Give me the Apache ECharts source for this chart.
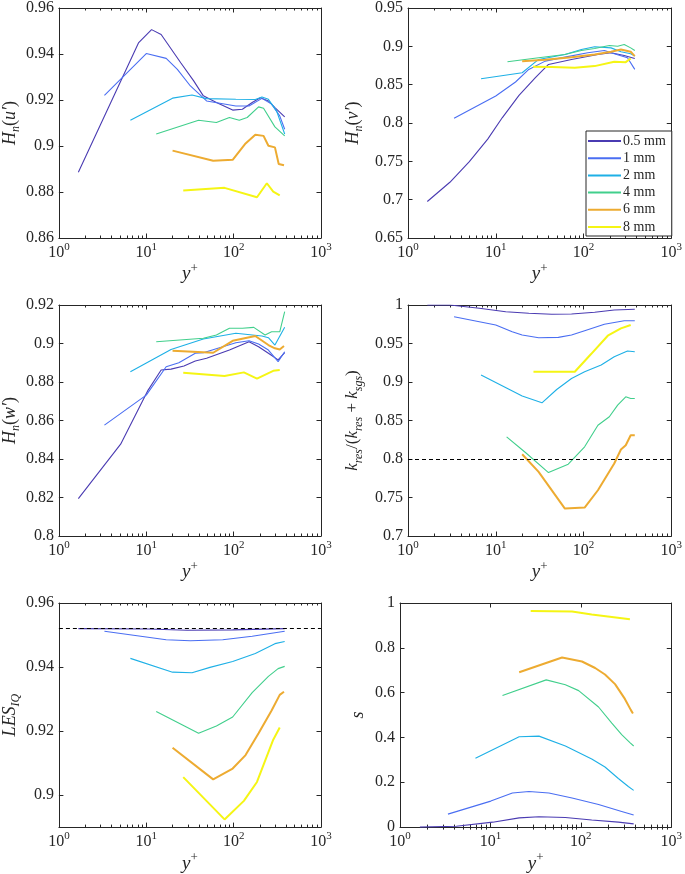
<!DOCTYPE html>
<html><head><meta charset="utf-8">
<script src="https://cdn.jsdelivr.net/npm/echarts@6/dist/echarts.min.js"></script>
<style>html,body{margin:0;padding:0;background:#fff}#c{width:685px;height:874px}</style>
</head><body><div id="c"></div><script>
// ---------- data ----------
const seriesNames = ['0.5 mm','1 mm','2 mm','4 mm','6 mm','8 mm'];
const xTickValues = [1, 10, 100, 1000];
const xMinorTicks = [2,3,4,5,6,7,8,9,20,30,40,50,60,70,80,90,200,300,400,500,600,700,800,900];

// Panel 1: Hn(u')
const hu05 = [[1.67,0.8886],[8.14,0.9448],[11.5,0.9506],[14.8,0.9485],[24.8,0.9362],[34.9,0.9283],[45,0.9218],[63.5,0.9189],[97.5,0.9156],[126,0.916],[163,0.9189],[202,0.921],[250,0.9196],[297,0.9167],[384,0.9127]];
const hu1  = [[3.32,0.922],[10,0.9402],[16.9,0.9381],[22.7,0.9333],[32,0.9261],[49,0.9196],[75,0.9184],[106,0.9174],[150,0.9174],[211,0.9207],[272,0.9182],[337,0.9131],[384,0.9073]];
const hu2  = [[6.58,0.9112],[20,0.9208],[33.4,0.9222],[49,0.9206],[106,0.9203],[177,0.9202],[211,0.9213],[250,0.9203],[310,0.9153],[384,0.9052]];
const hu4  = [[13,0.9052],[39.7,0.9112],[63.5,0.9102],[89.5,0.9124],[116,0.9112],[143,0.9124],[193,0.917],[220,0.9164],[297,0.9083],[384,0.9044]];
const hu6  = [[20,0.898],[58.3,0.8936],[97.5,0.894],[137,0.9011],[177,0.9049],[220,0.9044],[250,0.9001],[297,0.8994],[328,0.8922],[377,0.8916]];
const hu8  = [[26.5,0.8806],[78.7,0.8818],[185,0.8777],[240,0.8838],[284,0.8802],[337,0.8785]];

// Panel 2: Hn(v')
const hv05 = [[1.66,0.6976],[3.0,0.7227],[5.0,0.7496],[8.1,0.779],[11.9,0.8071],[18.4,0.8361],[28.3,0.8591],[39.9,0.8764],[73,0.8829],[146,0.8894],[206,0.8916],[291,0.8881],[384,0.8842]];
const hv1  = [[3.35,0.8063],[10,0.8353],[16.8,0.8535],[23.8,0.8699],[36.6,0.8807],[61.4,0.8859],[112,0.8916],[173,0.8946],[224,0.8903],[317,0.8851],[384,0.8699]];
const hv2  = [[6.8,0.8578],[20,0.8656],[30.8,0.8829],[61.4,0.8894],[94.6,0.8959],[134,0.8994],[206,0.898],[267,0.8929],[345,0.8903],[384,0.8872]];
const hv4  = [[13.6,0.8799],[30.8,0.8851],[61.4,0.8894],[94.6,0.8946],[134,0.8972],[197,0.9011],[245,0.9002],[291,0.9024],[345,0.898],[384,0.8946]];
const hv6  = [[20,0.8807],[36.6,0.8825],[73,0.8859],[134,0.8894],[206,0.8929],[267,0.8959],[345,0.8929],[384,0.8872]];
const hv8  = [[26.6,0.8734],[43.5,0.873],[79.6,0.8721],[134,0.8742],[224,0.8799],[303,0.8794],[345,0.8842]];

// Panel 3: Hn(w')
const hw05 = [[1.67,0.8194],[5.09,0.8477],[10.5,0.8758],[14.8,0.8862],[19.2,0.8867],[27,0.8883],[36.4,0.8909],[49,0.8923],[89.5,0.8966],[150,0.9009],[193,0.8983],[250,0.8949],[323,0.8915],[384,0.8952]];
const hw1  = [[3.32,0.8576],[10,0.8732],[16.9,0.8879],[23.6,0.89],[36.4,0.8949],[45,0.8952],[75,0.8983],[106,0.9004],[150,0.9014],[193,0.8997],[250,0.8966],[323,0.8906],[384,0.8957]];
const hw2  = [[6.58,0.8853],[19.2,0.8969],[45,0.9023],[106,0.9053],[211,0.9039],[250,0.903],[297,0.8992],[384,0.9084]];
const hw4  = [[13,0.9009],[45,0.9027],[63.5,0.9044],[89.5,0.9079],[126,0.9079],[170,0.9084],[229,0.9044],[272,0.9061],[337,0.9061],[384,0.9165]];
const hw6  = [[20,0.8962],[58.3,0.8952],[97.5,0.9014],[177,0.9039],[250,0.8992],[297,0.8975],[337,0.8969],[377,0.8987]];
const hw8  = [[26.5,0.8848],[78.7,0.8831],[131,0.885],[185,0.8818],[284,0.8858],[337,0.8862]];

// Panel 4: k_res/(k_res+k_sgs)
const kr05 = [[1.66,1.0],[3,1.0],[6.5,0.9957],[13,0.9913],[23.8,0.9892],[43.5,0.9879],[73,0.9883],[134,0.9905],[224,0.9935],[384,0.9944]];
const kr1  = [[3.35,0.9848],[10,0.974],[15.4,0.9653],[20,0.961],[30.8,0.9575],[51.7,0.958],[73,0.961],[103,0.9666],[173,0.9749],[291,0.9796],[384,0.9796]];
const kr2  = [[6.8,0.909],[20,0.8817],[33.6,0.873],[49.5,0.8903],[73,0.9046],[103,0.9133],[159,0.922],[224,0.9328],[317,0.9402],[384,0.9393]];
const kr4  = [[13.3,0.8288],[21.8,0.8084],[39.9,0.7824],[67,0.7932],[103,0.8158],[146,0.8439],[197,0.8548],[245,0.87],[303,0.8808],[345,0.8786],[384,0.8786]];
const kr6  = [[20,0.8062],[30.8,0.7832],[61.4,0.7356],[103,0.7369],[146,0.7594],[224,0.7941],[267,0.8123],[303,0.8179],[345,0.8309],[384,0.8309]];
const kr8  = [[26.9,0.9133],[79.6,0.9133],[122,0.9363],[189,0.9601],[267,0.9697],[345,0.974]];
const kRef = 0.8;

// Panel 5: LES_IQ
const les05 = [[1.67,0.952],[10.5,0.9519],[29.4,0.9515],[97.5,0.9516],[384,0.952]];
const les1  = [[3.32,0.9512],[16.9,0.9485],[32,0.9482],[75,0.9485],[163,0.9496],[384,0.9512]];
const les2  = [[6.58,0.9427],[20,0.9384],[33.4,0.9382],[53.6,0.9399],[97.5,0.9417],[177,0.9442],[297,0.9473],[384,0.948]];
const les4  = [[13,0.9261],[39.7,0.9193],[63.5,0.9216],[97.5,0.9244],[163,0.932],[250,0.9371],[323,0.9395],[384,0.9402]];
const les6  = [[20,0.9148],[58.3,0.9049],[97.5,0.9083],[137,0.9125],[193,0.9193],[272,0.9264],[337,0.9313],[377,0.9323]];
const les8  = [[26.5,0.9056],[78.7,0.8924],[131,0.8982],[185,0.9041],[284,0.9173],[337,0.9211]];
const lesRef = 0.952;
const lesTicks = [0.9, 0.92, 0.94, 0.96];

// Panel 6: s
const s05 = [[1.66,0.0],[4.19,0.004],[10.6,0.022],[20.8,0.041],[34.4,0.046],[67.5,0.043],[132,0.032],[260,0.022],[384,0.0145]];
const s1  = [[3.39,0.058],[10.1,0.116],[17.5,0.152],[26.7,0.159],[44.3,0.152],[80,0.13],[157,0.101],[283,0.07],[384,0.054]];
const s2  = [[6.83,0.307],[20.8,0.403],[34.4,0.406],[67.5,0.362],[132,0.304],[185,0.268],[260,0.217],[335,0.181],[384,0.164]];
const s4  = [[13.6,0.587],[41.4,0.657],[67.5,0.635],[94.6,0.609],[157,0.536],[220,0.464],[283,0.413],[349,0.377],[384,0.362]];
const s6  = [[20.8,0.691],[62,0.757],[103,0.739],[144,0.71],[185,0.681],[239,0.638],[307,0.572],[358,0.522],[377,0.507]];
const s8  = [[27.9,0.964],[80,0.962],[132,0.949],[349,0.928]];

// ---------- layout / style ----------
const F = '"Liberation Serif","DejaVu Serif",serif';
const AX = '#262626';
const colors = ['#4a3bb2','#4a6ef2','#1eb0e6','#41cf8c','#edab31','#f5f514'];
const widths = [1.1,1.1,1.1,1.1,2,2];

const rich = {
  b:  {fontFamily:F, fontSize:16, color:AX, verticalAlign:'bottom'},
  s:  {fontFamily:F, fontSize:11, color:AX, verticalAlign:'top', padding:[0,0,8,0]},
  i:  {fontFamily:F, fontSize:18, fontStyle:'italic', color:AX, verticalAlign:'top'},
  n:  {fontFamily:F, fontSize:18, color:AX, verticalAlign:'top'},
  sub:{fontFamily:F, fontSize:12, fontStyle:'italic', color:AX, verticalAlign:'bottom', padding:[9,0,0,0]},
  ip: {fontFamily:F, fontSize:19, fontStyle:'italic', color:AX, verticalAlign:'bottom'},
  sp: {fontFamily:F, fontSize:13, color:AX, verticalAlign:'top', padding:[0,0,9,0]},
  ki: {fontFamily:F, fontSize:17, fontStyle:'italic', color:AX, verticalAlign:'top'},
  kn: {fontFamily:F, fontSize:17, color:AX, verticalAlign:'top'},
  ks: {fontFamily:F, fontSize:12, fontStyle:'italic', color:AX, verticalAlign:'bottom', padding:[9,0,0,0]}
};

const panels = [
  {rect:{left:52, top:7,   width:269, height:231}, data:[hu05,hu1,hu2,hu4,hu6,hu8], min:0.86, max:0.96, interval:0.02, name:'{i|H}{sub|n}{n|(}{i|u′}{n|)}', gap:32},
  {rect:{left:408,top:7,   width:266, height:231}, data:[hv05,hv1,hv2,hv4,hv6,hv8], min:0.65, max:0.95, interval:0.05, name:'{i|H}{sub|n}{n|(}{i|v′}{n|)}', gap:43},
  {rect:{left:52, top:305, width:269, height:231}, data:[hw05,hw1,hw2,hw4,hw6,hw8], min:0.8,  max:0.92, interval:0.02, name:'{i|H}{sub|n}{n|(}{i|w′}{n|)}', gap:32},
  {rect:{left:408,top:305, width:266, height:231}, data:[kr05,kr1,kr2,kr4,kr6,kr8], min:0.7,  max:1.0,  interval:0.05, name:'{ki|k}{ks|res}{kn|/(}{ki|k}{ks|res}{kn| + }{ki|k}{ks|sgs}{kn|)}', gap:43, ref:kRef},
  {rect:{left:52, top:603, width:269, height:230}, data:[les05,les1,les2,les4,les6,les8], min:0.89, max:0.96, custom:lesTicks, name:'{i|LES}{sub|IQ}', gap:32, ref:lesRef},
  {rect:{left:400,top:603, width:273, height:230}, data:[s05,s1,s2,s4,s6,s8], min:0, max:1, interval:0.2, name:'{i|s}', gap:33}
];

const minorPos = xMinorTicks.map(v => Math.log10(v)); // tick positions in decades

const grid = [], xAxis = [], yAxis = [], series = [];
panels.forEach((p, g) => {
  grid.push(Object.assign({containLabel:false}, p.rect));
  const xb = {type:'log', logBase:10, min:1, max:1000, gridIndex:g, splitLine:{show:false}};
  const xm = {type:'value', min:0, max:3, gridIndex:g, splitLine:{show:false}, axisLine:{show:false}, axisLabel:{show:false},
    axisTick:{show:true, inside:true, length:2.5, customValues:minorPos, lineStyle:{color:AX}}};
  xAxis.push(Object.assign({}, xb, {
    position:'bottom',
    axisLine:{show:true, onZero:false, lineStyle:{color:AX, width:1}},
    axisTick:{show:true, inside:true, length:4.5, lineStyle:{color:AX}},
    axisLabel:{show:true, margin:4, formatter: v => '{b|10}{s|' + Math.round(Math.log10(v)) + '}', rich},
    name:'{ip|y}{sp|+}', nameLocation:'middle', nameGap:23, nameTextStyle:{rich}
  }));
  xAxis.push(Object.assign({}, xm, {position:'bottom'}));
  xAxis.push(Object.assign({}, xb, {
    position:'top',
    axisLine:{show:true, onZero:false, lineStyle:{color:AX, width:1}},
    axisTick:{show:true, inside:true, length:4.5, lineStyle:{color:AX}},
    axisLabel:{show:false}
  }));
  xAxis.push(Object.assign({}, xm, {position:'top'}));
  const yb = {type:'value', gridIndex:g, min:p.min, max:p.max, splitLine:{show:false}};
  if (p.interval) yb.interval = p.interval;
  const tickCommon = {show:true, inside:true, length:4.5, lineStyle:{color:AX}};
  if (p.custom) tickCommon.customValues = p.custom;
  const lblCommon = {show:true, margin:5, fontFamily:F, fontSize:16, color:AX};
  if (p.custom) lblCommon.customValues = p.custom;
  yAxis.push(Object.assign({}, yb, {
    position:'left',
    axisLine:{show:true, onZero:false, lineStyle:{color:AX, width:1}},
    axisTick:tickCommon, axisLabel:lblCommon,
    name:p.name, nameLocation:'middle', nameGap:p.gap, nameRotate:90, nameTextStyle:{rich}
  }));
  yAxis.push(Object.assign({}, yb, {
    position:'right',
    axisLine:{show:true, onZero:false, lineStyle:{color:AX, width:1}},
    axisTick:tickCommon, axisLabel:{show:false}
  }));
  p.data.forEach((d, k) => {
    const s = {
      type:'line', name:seriesNames[k], data:d,
      xAxisIndex:4*g, yAxisIndex:2*g,
      symbol:'none', showSymbol:false, smooth:false,
      lineStyle:{color:colors[k], width:widths[k]}, itemStyle:{color:colors[k]},
      z: 2
    };
    if (k === 0 && p.ref !== undefined) {
      s.markLine = {silent:true, symbol:['none','none'], precision:4, label:{show:false},
        lineStyle:{color:'#000', type:[4,3], width:1}, data:[{yAxis:p.ref}]};
    }
    series.push(s);
  });
});

const chart = echarts.init(document.getElementById('c'), null, {renderer:'canvas'});
chart.setOption({
  animation:false,
  backgroundColor:'#fff',
  grid, xAxis, yAxis, series,
  legend:{
    show:true, orient:'vertical', left:586, top:131,
    data:seriesNames, itemWidth:33, itemHeight:12, itemGap:3.2,
    padding:[3,6,2,1], borderColor:AX, borderWidth:1, backgroundColor:'#fff',
    itemStyle:{color:'rgba(0,0,0,0)', borderColor:'rgba(0,0,0,0)', borderWidth:0},
    textStyle:{fontFamily:F, fontSize:14, color:AX, padding:[0,0,0,-3]},
    selectedMode:false
  }
});
</script></body></html>
